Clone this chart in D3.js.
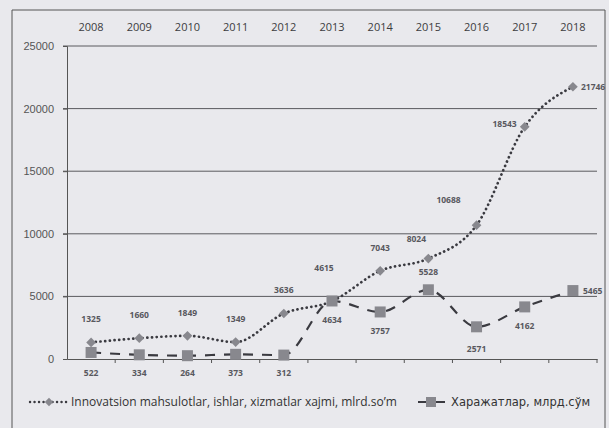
<!DOCTYPE html>
<html>
<head>
<meta charset="utf-8">
<script src="https://cdn.jsdelivr.net/npm/d3@7"></script>
<style>
  body { margin: 0; background: #e6e6ea; }
  svg { display: block; font-family: "Open Sans", "Noto Sans", sans-serif; }
</style>
</head>
<body>
<svg id="chart" width="609" height="428"></svg>
<script>
const years = ["2008","2009","2010","2011","2012","2013","2014","2015","2016","2017","2018"];
const innovation = [1325, 1660, 1849, 1349, 3636, 4615, 7043, 8024, 10688, 18543, 21746];
const expenses = [522, 334, 264, 373, 312, 4634, 3757, 5528, 2571, 4162, 5465];
const yTicks = [0, 5000, 10000, 15000, 20000, 25000];
const legendNames = ["Innovatsion mahsulotlar, ishlar, xizmatlar xajmi, mlrd.so\u2019m", "\u0425\u0430\u0440\u0430\u0436\u0430\u0442\u043b\u0430\u0440, \u043c\u043b\u0440\u0434.\u0441\u045e\u043c"];

const svg = d3.select("#chart"),
      width = +svg.attr("width"),
      height = +svg.attr("height");

// paper + frame
svg.append("rect").attr("width", width).attr("height", height).attr("fill", "#e9e9ed");
svg.append("path")
    .attr("d", "M12,430 L12,10 L605,10 L605,430")
    .attr("fill", "none").attr("stroke", "#555").attr("stroke-width", 1);

const x = d3.scaleBand().domain(years).range([67, 597]);
const y = d3.scaleLinear().domain([0, 25000]).range([359, 46]);
const cx = d => x(d) + x.bandwidth() / 2;

// grid
svg.append("g")
  .selectAll("line")
  .data(yTicks.filter(t => t > 0))
  .enter().append("line")
    .attr("x1", 63).attr("x2", 597)
    .attr("y1", d => y(d)).attr("y2", d => y(d))
    .attr("stroke", "#5a5a5e").attr("stroke-width", 1);

// y axis
const yAxis = svg.append("g")
    .attr("transform", "translate(67,0)")
    .call(d3.axisLeft(y).tickValues(yTicks).tickSize(4).tickFormat(d3.format("d")));
yAxis.select(".domain").attr("stroke", "#555");
yAxis.selectAll(".tick line").attr("stroke", "#555");
yAxis.selectAll("text").attr("fill", "#555").attr("font-size", 11).attr("x", -13);

// bottom axis (line + ticks at band edges)
const xAxis = svg.append("g")
    .attr("transform", "translate(0," + y(0) + ")")
    .call(d3.axisBottom(x).tickSize(0).tickFormat(""));
xAxis.select(".domain").attr("stroke", "#555");
svg.append("g")
  .selectAll("line")
  .data(years)
  .enter().append("line")
    .attr("x1", d => x(d) + x.bandwidth()).attr("x2", d => x(d) + x.bandwidth())
    .attr("y1", y(0)).attr("y2", y(0) + 4)
    .attr("stroke", "#555");

// year labels at top
svg.append("g")
  .selectAll("text")
  .data(years)
  .enter().append("text")
    .attr("x", d => cx(d))
    .attr("y", 31)
    .attr("text-anchor", "middle")
    .attr("font-size", 11)
    .attr("fill", "#3c3c40")
    .text(d => d);

const line = d3.line().curve(d3.curveMonotoneX);

// series 1: dotted, diamonds
const s1 = years.map((d, i) => [cx(d), y(innovation[i])]);
svg.append("path")
    .attr("d", line(s1))
    .attr("fill", "none")
    .attr("stroke", "#3a3a40")
    .attr("stroke-width", 2.7)
    .attr("stroke-linecap", "round")
    .attr("stroke-dasharray", "0.1,4.6");

// series 2: dashed, squares
const s2 = years.map((d, i) => [cx(d), y(expenses[i])]);
svg.append("path")
    .attr("d", line(s2))
    .attr("fill", "none")
    .attr("stroke", "#3a3a40")
    .attr("stroke-width", 2.2)
    .attr("stroke-dasharray", "10,9");

svg.append("g")
  .selectAll("path")
  .data(s1)
  .enter().append("path")
    .attr("transform", d => `translate(${d[0]},${d[1]})`)
    .attr("d", d3.symbol(d3.symbolDiamond2, 60))
    .attr("fill", "#88888e");

svg.append("g")
  .selectAll("rect")
  .data(s2)
  .enter().append("rect")
    .attr("x", d => d[0] - 5.5).attr("y", d => d[1] - 5.5)
    .attr("width", 11).attr("height", 11)
    .attr("fill", "#88888e");

// data labels
function place1(i) {
  if (i === years.length - 1) return { dx: 8, dy: 3, anchor: "start" };
  if (i === 9) return { dx: -8, dy: 0, anchor: "end" };
  if (i === 8) return { dx: -28, dy: -22, anchor: "middle" };
  if (i === 7) return { dx: -12, dy: -17, anchor: "middle" };
  if (i === 5) return { dx: -8, dy: -30, anchor: "middle" };
  return { dx: 0, dy: -20, anchor: "middle" };
}
function place2(i, v) {
  if (i === years.length - 1) return { dx: 10, dy: 3, anchor: "start" };
  if (i === 7) return { dx: 0, dy: -15, anchor: "middle" };
  if (i === 8) return { dx: 0, dy: 25, anchor: "middle" };
  if (v < 1000) return { dx: 0, dy: y(0) - y(v) + 17, anchor: "middle" };
  return { dx: 0, dy: 22, anchor: "middle" };
}

svg.append("g")
  .selectAll("text")
  .data(innovation)
  .enter().append("text")
    .each(function(v, i) {
      const p = place1(i);
      d3.select(this)
        .attr("x", s1[i][0] + p.dx)
        .attr("y", s1[i][1] + p.dy)
        .attr("text-anchor", p.anchor);
    })
    .attr("font-size", 8.5).attr("font-weight", "bold").attr("fill", "#58585e")
    .text(d => d);

svg.append("g")
  .selectAll("text")
  .data(expenses)
  .enter().append("text")
    .each(function(v, i) {
      const p = place2(i, v);
      d3.select(this)
        .attr("x", s2[i][0] + p.dx)
        .attr("y", s2[i][1] + p.dy)
        .attr("text-anchor", p.anchor);
    })
    .attr("font-size", 8.5).attr("font-weight", "bold").attr("fill", "#58585e")
    .text(d => d);

// legend
const lg = svg.append("g").attr("transform", "translate(0,402)");
lg.append("line").attr("x1", 30).attr("x2", 68).attr("y1", 0).attr("y2", 0)
    .attr("stroke", "#3a3a40").attr("stroke-width", 2.4)
    .attr("stroke-linecap", "round").attr("stroke-dasharray", "0.1,4.4");
lg.append("path").attr("transform", "translate(49,0)")
    .attr("d", d3.symbol(d3.symbolDiamond2, 45)).attr("fill", "#88888e");
lg.append("text").attr("x", 71).attr("y", 4).attr("font-size", 12).attr("fill", "#333")
    .text(legendNames[0]);
lg.append("line").attr("x1", 418).attr("x2", 445).attr("y1", 0).attr("y2", 0)
    .attr("stroke", "#3a3a40").attr("stroke-width", 2);
lg.append("rect").attr("x", 426).attr("y", -5).attr("width", 10).attr("height", 10).attr("fill", "#88888e");
lg.append("text").attr("x", 451).attr("y", 4).attr("font-size", 11.5)
    .attr("font-family", "DejaVu Sans, sans-serif").attr("fill", "#333")
    .text(legendNames[1]);
</script>
</body>
</html>
